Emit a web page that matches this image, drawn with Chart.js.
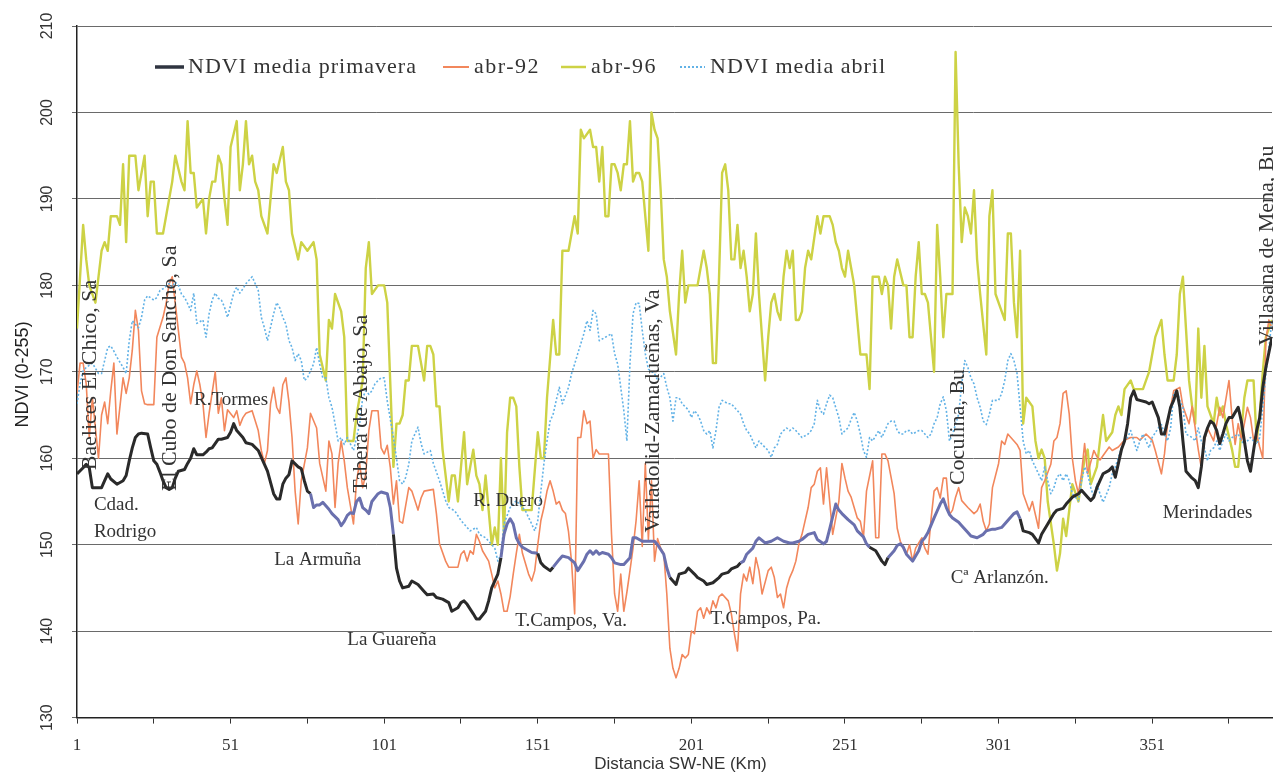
<!DOCTYPE html>
<html>
<head>
<meta charset="utf-8">
<script src="https://cdn.jsdelivr.net/npm/chart.js@4.4.1/dist/chart.umd.min.js"></script>
<style>
  html, body { margin: 0; padding: 0; background: #fff; }
  canvas { display: block; }
</style>
</head>
<body>
<canvas id="chartNdvi" width="1274" height="774"></canvas>
<script>
// [km, NDVI]
const primavera = [[1,158.2],[3,158.9],[4,159.3],[5,158.9],[6,156.6],[8,156.6],[9,156.6],[10,157.4],[11,158.2],[12,157.6],[14,157],[16,157.4],[17,158],[18,159.7],[19,161.2],[20,162.4],[21,162.8],[22,162.9],[24,162.8],[25,161.2],[26,159.7],[27,159.3],[28,158.4],[29,157.4],[30,156.6],[31,156.4],[32,156.6],[33,157.7],[34,158.5],[36,158.7],[37,159.4],[38,160],[39,161.1],[40,160.4],[42,160.4],[43,160.7],[44,161.1],[45,161.2],[47,162.2],[48,162.2],[50,162.4],[51,163],[52,164],[53,163.2],[55,162.4],[56,161.8],[58,161.6],[60,160.9],[61,160.1],[63,158.5],[65,155.9],[66,155.3],[67,155.3],[68,157],[69,157.7],[70,158.1],[71,159.7],[73,159],[74,158.8],[75,157.4],[76,156.2],[77,155.9],[78,154.3],[79,154.6],[80,154.6],[81,154.9],[82,154.5],[83,154.1],[84,153.6],[86,152.9],[87,152.2],[88,152.7],[89,153.4],[90,153.7],[91,153.6],[92,155],[93,155.4],[94,154.3],[95,154],[96,153.6],[97,155],[99,155.9],[100,156.1],[102,155.9],[103,154.3],[104,151.2],[105,147.3],[106,145.8],[107,145],[109,145.2],[110,145.8],[112,145.4],[114,144.6],[115,144.2],[117,144.3],[118,143.9],[120,143.7],[122,143.3],[123,142.3],[125,142.7],[126,143.3],[127,143.5],[128,143.1],[130,142],[131,141.4],[132,141.4],[134,142.3],[135,143.5],[136,145],[138,146.6],[139,148.5],[140,151.2],[141,152.4],[142,153],[143,152.4],[144,150.8],[145,150.1],[146,149.7],[148,149.3],[149,149.1],[151,149],[152,147.9],[153,147.5],[155,147],[156,147.4],[158,148.3],[159,148.7],[161,148.5],[163,147.9],[164,147],[166,148.1],[167,148.9],[168,149.3],[169,148.9],[170,149.3],[171,148.9],[172,149.1],[174,148.9],[175,148.5],[176,147.9],[178,147.7],[179,147.7],[181,148.5],[182,150.8],[183,150.8],[185,150.4],[187,150.4],[188,150.4],[189,150.4],[190,150],[192,148.9],[193,147.3],[194,146.2],[195,145.8],[196,145.4],[197,146.6],[199,146.8],[200,147.3],[202,146.6],[203,146.2],[205,145.8],[206,145.4],[208,145.6],[210,146.2],[211,146.6],[213,146.8],[214,147.2],[216,147.5],[217,147.9],[218,148.1],[219,148.9],[221,149.6],[222,150.4],[223,150.8],[225,150.2],[227,150.4],[229,150.8],[231,150.4],[233,150.2],[234,150.2],[236,150.4],[237,150.6],[239,151.2],[241,151.4],[242,150.6],[244,150.1],[245,150.4],[246,151.8],[248,154.7],[249,154],[250,153.6],[252,152.9],[254,152.3],[255,151.6],[257,150.9],[258,150.1],[259,149.7],[261,149.3],[263,148.1],[264,147.7],[265,148.5],[267,149.3],[268,149.9],[269,150.1],[270,149.7],[271,148.9],[273,148.1],[275,149.3],[276,150.4],[277,150.8],[278,151.4],[280,153.1],[281,153.9],[282,154.7],[283,155.3],[284,154.3],[285,153.5],[286,153.1],[288,152.6],[289,152.2],[291,151.4],[292,151],[294,150.8],[296,151.2],[297,151.6],[299,151.8],[300,151.8],[302,152],[304,152.8],[306,153.6],[307,153.8],[308,153],[309,151.6],[311,151.4],[312,151.2],[314,150.2],[315,151.2],[317,152.4],[319,153.6],[320,154],[322,154.2],[323,154.7],[325,155.5],[327,155.9],[328,156.3],[330,155.5],[331,155.1],[332,155.5],[333,156.6],[334,157.4],[335,158.2],[337,158.6],[338,159],[339,157.8],[340,159.4],[341,161],[342,162],[343,164],[344,167],[345,167.8],[346,166.8],[347,166.7],[349,166.5],[350,166.3],[351,166.5],[353,164.7],[354,162.8],[355,162.8],[356,164.3],[357,165.9],[358,166.7],[359,167.8],[360,165.9],[361,162],[362,158.5],[364,157.7],[365,157.4],[366,156.6],[367,159],[368,162.4],[369,163.5],[370,164.3],[371,164],[372,163.2],[373,161.7],[374,162.8],[375,164],[376,164.7],[377,164.7],[379,165.9],[380,164.3],[381,162],[382,159.7],[383,158.5],[384,160.9],[385,163.2],[386,164.7],[387,168.2],[388,170.5],[390,174]];

const abr92 = [[1,167.5],[2,171],[3,171],[4,168.6],[5,162.4],[6,167],[8,160],[9,165],[10,166.5],[11,164],[12,167.8],[13,171],[14,162.8],[16,169.3],[17,167.5],[18,169.3],[19,172.5],[20,177.1],[21,174.8],[22,167.8],[23,166.3],[24,166.2],[26,166.2],[27,174],[29,176.3],[30,177.9],[31,180.2],[32,181],[34,174.8],[35,171.7],[36,171],[37,169.3],[38,166.3],[39,168.5],[40,170.1],[41,168.5],[42,166.3],[43,162.4],[44,165.2],[46,170],[47,165.2],[48,167],[49,163.2],[50,165.6],[52,164.7],[53,165.5],[54,163.8],[55,164.7],[56,165.2],[58,165.5],[60,163.2],[61,160.9],[62,159.4],[63,160.9],[64,166.3],[65,168.2],[66,165.9],[67,165.2],[68,168.5],[69,169.3],[70,166.5],[71,162.4],[72,156.2],[73,152.4],[74,157.4],[76,161.2],[77,165.2],[79,163.5],[80,159.4],[82,156.2],[83,162],[84,160.5],[85,154.3],[86,159.4],[87,162],[88,159.7],[89,156.6],[91,152.4],[92,157.4],[93,159.4],[94,156.6],[95,158.2],[96,163.2],[97,165.5],[99,165.5],[100,161.2],[101,160.5],[102,161.5],[103,158.9],[104,154.7],[105,157.4],[106,152.7],[107,152.5],[109,156.6],[110,156.2],[112,154],[113,155.4],[114,156.2],[117,156.4],[118,153.6],[119,150.1],[121,148.1],[122,147.4],[125,147.4],[126,148.9],[127,149.3],[128,148.1],[129,149.3],[130,148.9],[131,151.2],[132,150.4],[133,149.3],[135,148.1],[136,146.6],[137,145],[138,145.8],[139,144.3],[140,142.3],[141,142.3],[142,144],[143,146.6],[144,149],[145,151.2],[146,149],[148,146.6],[149,145.8],[150,147],[151,150],[152,152.8],[153,154.3],[154,156.2],[155,157.4],[156,156.2],[157,154.7],[158,155],[159,154],[160,153.6],[161,151.5],[162,148],[163,142],[164,162.4],[165,162.4],[166,165.5],[167,164],[168,164.3],[169,160],[170,161],[171,160.5],[174,160.5],[175,151.2],[176,144.3],[177,142.3],[178,146.6],[179,142.3],[180,144.5],[181,147],[182,149.6],[183,152.8],[184,157.4],[185,149.8],[186,159.4],[187,150.6],[188,157.4],[189,148.1],[190,150.7],[191,149.6],[192,149],[193,144.3],[194,138],[195,135.7],[196,134.6],[197,135.7],[198,137.3],[199,136.9],[200,137.3],[201,140],[202,139.7],[203,142.3],[204,142.7],[205,141.5],[206,142.7],[207,142],[208,143.5],[209,142.7],[210,144],[211,144.3],[213,143.5],[214,142],[215,139.7],[216,137.7],[217,144.3],[218,146.6],[219,145.8],[220,147.4],[221,145.5],[222,148.5],[223,147],[224,144.3],[226,147],[227,147.4],[228,146.2],[229,143.9],[230,144.3],[231,142.7],[232,145],[233,146.2],[234,147],[235,148.1],[236,150.1],[237,151.2],[239,154.3],[240,156.6],[241,157],[242,158.5],[243,158.9],[244,154.7],[245,158.9],[247,151.2],[249,155],[250,159.4],[251,157.7],[252,156.2],[253,155.5],[255,153.1],[256,152.7],[257,150.8],[258,156.2],[260,159.7],[261,150.8],[262,150.8],[263,160.5],[264,160.5],[265,159.7],[267,155.9],[268,151.9],[269,150.4],[271,148.9],[272,150],[273,148.1],[274,149.6],[276,150.8],[277,149.6],[278,148.9],[279,152.9],[280,156.2],[281,156.6],[282,155.4],[283,157.7],[284,157.7],[285,153.5],[286,154],[287,155.5],[288,156.6],[289,155.1],[291,154.3],[293,153.6],[294,153.9],[295,154.7],[296,152.7],[297,151.6],[298,152.4],[299,156.6],[301,159.4],[302,162],[303,161.6],[304,162.8],[305,162.4],[307,161.6],[308,160.9],[309,155.9],[311,153.9],[312,155],[314,151.9],[315,156.6],[316,157.4],[318,159.3],[319,162],[320,162.4],[321,164],[322,167.5],[323,167.8],[324,165.1],[325,160],[326,157.4],[327,155.9],[328,158.2],[329,161.7],[330,158.2],[332,160.9],[333,160.2],[334,159.8],[337,161.3],[338,160.9],[340,161.3],[341,161.7],[342,162.1],[344,162.4],[346,162.4],[347,162.1],[349,162.8],[351,162.1],[352,160.9],[354,158.2],[355,160.5],[356,164],[358,167.8],[360,168.2],[361,166],[363,164],[364,166],[366,161],[367,158.9],[368,162],[369,163.5],[371,162],[373,165.9],[374,164.7],[376,169],[377,164.7],[378,161.6],[379,164],[380,162.1],[382,165.9],[383,164.7],[384,162.1],[385,162.8],[386,161.3],[387,160],[388,173.6],[389,176],[390,175]];

const abr96 = [[1,175],[3,187],[4,183],[5,180],[7,178],[9,184],[10,185],[11,184],[12,188],[14,188],[15,187],[16,194],[17,185],[18,195],[19,195],[20,195],[21,191],[23,195],[24,188],[25,192],[26,192],[27,186],[29,186],[30,188],[32,192],[33,195],[35,192],[36,191],[37,199],[38,193],[39,193],[40,189],[42,190],[43,186],[44,190],[45,192],[46,192],[47,195],[48,194],[49,190],[50,187],[51,196],[53,199],[54,191],[55,194],[56,199],[57,194],[58,195],[59,192],[60,191],[61,188],[63,186],[65,194],[66,193],[68,196],[69,192],[70,191],[71,186],[73,183],[74,185],[76,184],[78,185],[79,183],[80,172],[82,169],[83,176],[84,175],[85,179],[87,177],[88,174],[89,162],[90,162],[91,162],[92,165],[94,169],[95,182],[96,185],[97,179],[99,180],[100,180],[101,180],[102,178],[104,159],[105,164],[106,164],[107,165],[108,169],[109,169],[110,173],[112,173],[114,169],[115,173],[116,173],[117,172],[118,166],[119,166],[120,161],[122,155],[123,158],[124,158],[125,155],[127,163],[128,157],[130,161],[131,158],[132,157],[133,154],[134,158],[136,150],[137,152],[138,150],[139,160],[140,151],[141,163],[142,167],[143,167],[144,166],[145,159],[146,154],[148,154],[149,154],[151,163],[152,160],[153,160],[154,167],[156,176],[157,172],[158,172],[159,184],[161,184],[162,186],[163,188],[164,186],[165,198],[166,197],[168,198],[169,196],[170,196],[171,192],[172,196],[173,188],[174,188],[175,194],[176,194],[177,193],[178,191],[179,194],[180,194],[181,199],[182,192],[183,193],[184,193],[185,192],[187,184],[188,200],[189,198],[190,197],[191,191],[192,183],[193,181],[194,177],[196,172],[197,179],[198,184],[199,178],[200,180],[202,180],[203,180],[205,184],[206,182],[207,179],[208,171],[209,171],[210,181],[211,193],[212,194],[213,191],[214,183],[215,183],[216,187],[217,182],[218,184],[219,181],[220,177],[221,179],[222,186],[223,179],[224,174],[225,169],[226,174],[227,178],[228,179],[229,177],[230,176],[231,181],[232,184],[233,182],[234,184],[235,176],[236,176],[237,177],[238,182],[239,184],[240,183],[242,188],[243,186],[244,188],[246,188],[247,187],[248,185],[249,184],[250,182],[251,181],[252,184],[253,182],[254,180],[255,176],[256,172],[258,172],[259,168],[260,181],[262,181],[263,179],[264,181],[265,180],[266,175],[267,181],[268,183],[270,180],[271,180],[272,174],[273,174],[274,181],[275,185],[276,179],[277,179],[278,178],[280,170],[281,187],[282,181],[283,174],[284,179],[285,179],[286,179],[287,207],[288,194],[289,185],[290,189],[291,188],[292,186],[293,191],[294,183],[295,179],[297,172],[298,188],[299,191],[300,179],[302,177],[303,176],[304,186],[305,186],[306,178],[307,174],[308,184],[309,164],[310,167],[312,166],[313,162],[314,160],[315,161],[316,160],[317,155],[319,150],[320,147],[321,149],[322,153],[323,151],[324,154],[325,157],[327,155],[329,160],[330,161],[331,157],[333,159],[334,162],[335,165],[336,162],[338,163],[339,165],[340,166],[341,165],[342,168],[344,169],[345,168],[347,168],[348,168],[349,169],[350,170],[351,172],[352,174],[354,176],[355,172],[356,169],[358,169],[359,172],[360,179],[361,181],[362,175],[363,169],[364,166],[365,164],[366,175],[367,167],[368,173],[369,166],[371,164],[372,167],[373,165],[374,166],[375,164],[377,161],[378,159],[379,159],[380,163],[381,167],[382,169],[384,169],[385,162],[386,165],[387,170],[388,174],[390,176]];

const abril = [[1,166.3],[2,168.6],[3,170.1],[4,170.5],[6,171],[8,169.8],[9,169.8],[10,171.3],[11,172.8],[12,173],[13,172.4],[14,171.7],[16,170.5],[17,169.8],[18,173.6],[19,175.9],[20,175.5],[21,175.1],[22,176.3],[23,178.3],[24,178.8],[26,178.3],[27,178.6],[28,179.4],[29,179.6],[31,180.2],[32,179.8],[33,180.4],[34,180],[35,179],[36,178.6],[37,177.9],[38,177.1],[39,179.1],[40,175.6],[42,176],[43,174],[44,176.7],[45,178.3],[46,179.1],[47,178.5],[48,178.3],[49,177.5],[50,176.3],[52,179.1],[53,179.8],[54,179.1],[55,179.6],[56,180.2],[57,180.6],[58,181],[59,180.2],[60,179.4],[61,176.3],[62,175.1],[63,173.6],[65,176.7],[66,178],[67,177.4],[68,176.3],[69,175.5],[70,173.6],[71,172.8],[72,171.3],[73,172.1],[74,171.3],[75,169],[76,169.3],[78,170.9],[79,172.8],[80,170.9],[81,169.3],[82,169.3],[83,167],[84,165.9],[85,164],[86,162],[87,162.4],[88,161.6],[89,162.4],[91,160.9],[92,162.4],[93,164],[94,167],[95,167.8],[96,167.4],[97,167.8],[98,168.6],[99,169],[100,169.3],[101,169.3],[102,166.6],[104,162.4],[105,160],[106,157.4],[107,157],[108,157.8],[109,159.3],[110,162],[112,163.6],[113,161.7],[114,160.5],[116,160.9],[117,159.4],[119,157.4],[121,155.1],[122,154.3],[124,153.9],[126,152.8],[127,152.4],[129,151.6],[131,152],[132,151.2],[134,150.8],[135,150.4],[137,149.6],[138,148.1],[139,148.9],[140,152.4],[142,154.3],[144,155.1],[145,154.7],[147,153.9],[149,152.4],[150,151.6],[151,152.8],[152,156.2],[153,159.4],[154,162],[155,164.3],[156,165.1],[157,166.7],[158,168.2],[159,166.3],[161,168.2],[162,169.8],[163,170.9],[164,172.1],[166,174.4],[167,175.9],[168,174.8],[169,177.1],[170,176.7],[171,173.6],[173,174],[175,174.4],[176,172.1],[177,170.9],[178,168.2],[179,165.5],[180,162],[181,170.9],[182,176.7],[183,178],[184,177.9],[185,174.8],[186,172.1],[187,170.3],[189,169.8],[190,169],[192,169.8],[193,168.2],[194,167],[195,164.3],[196,167],[197,167],[198,166.3],[200,165.6],[201,164.7],[202,165.5],[203,165.1],[204,164.3],[205,163.2],[206,162.8],[207,163.2],[208,161.2],[209,163.2],[210,165.9],[211,166.7],[213,166.3],[214,166.3],[215,165.9],[216,165.5],[217,165.1],[218,164],[219,163.2],[220,162.8],[221,162],[222,161.2],[223,162],[224,161.6],[226,160.9],[227,160.1],[228,161.2],[229,161.6],[230,162.8],[231,163.2],[232,163.5],[233,163.2],[234,163.5],[235,163.2],[236,162.8],[237,162.4],[239,162.8],[240,163.2],[241,164],[242,166.7],[243,165.5],[244,165.1],[245,166.3],[246,167.3],[247,167],[249,164.7],[250,162.8],[251,163.2],[252,163.5],[253,164.5],[254,165.3],[255,164.3],[256,162.8],[257,160.9],[258,160.1],[259,162.4],[260,162],[262,163.2],[263,162.4],[264,163.2],[265,164],[266,164.3],[267,164.3],[268,163.2],[269,162.8],[270,162.8],[271,163.2],[272,163.2],[273,162.8],[275,163.2],[276,163.2],[277,162.8],[278,162.4],[279,162.8],[280,164],[281,164.7],[282,166.3],[283,167.1],[284,165.5],[285,162],[286,162.8],[288,165.1],[289,168.6],[290,171.3],[291,170.5],[292,169.3],[293,168.6],[294,167],[295,165.9],[296,164.3],[297,163.9],[298,165.1],[299,166.7],[301,166.7],[302,167.5],[303,169],[304,171.3],[305,172.1],[306,171.3],[307,169.8],[308,165.9],[309,162],[310,160.5],[311,160.9],[312,159.7],[314,158.2],[315,157.4],[316,159],[317,157.4],[318,155.9],[319,156.6],[320,157.8],[321,158.2],[322,157.4],[323,158.2],[324,157.4],[325,155.9],[327,155.1],[328,157.4],[329,159],[330,158.2],[331,156.6],[332,155.5],[333,157],[334,155.9],[335,154.9],[337,156.6],[338,158.2],[339,159],[340,160.1],[341,161.2],[342,162],[343,162.4],[344,163.2],[345,162],[346,160.9],[347,162],[348,162.8],[349,162],[350,161.2],[351,162.4],[353,163.5],[354,163.9],[355,162.8],[356,162],[357,163.5],[358,167.5],[359,167.8],[360,166.7],[361,165.9],[362,162.8],[364,162.4],[365,162],[366,163.5],[367,162],[368,161.2],[369,159.7],[370,160.9],[371,161.2],[372,162],[373,160.9],[374,162],[375,162.8],[376,162],[377,162.4],[379,162.8],[380,162],[381,161.6],[382,162],[383,162.4],[384,162],[385,161.6],[386,162.4],[387,165.9],[388,169.8],[389,172.8],[390,176]];

// stretches where the spring mean prints in slate blue instead of black
const slateKm = [[77,104],[139,151],[156,194],[217,259],[265,308]];

const yTicks = [130,140,150,160,170,180,190,200,210];
const xTicks = [1,26,51,76,101,126,151,176,201,226,251,276,301,326,351,376];

const legendItems = [
  { text: 'NDVI media primavera', color: '#2f3440', width: 3.5, dash: [], x0: 155, x1: 184, tx: 188 },
  { text: 'abr-92', color: '#f2875c', width: 2, dash: [], x0: 443, x1: 469, tx: 474 },
  { text: 'abr-96', color: '#cdd245', width: 2.5, dash: [], x0: 561, x1: 586, tx: 591 },
  { text: 'NDVI media abril', color: '#62b2e6', width: 2, dash: [2, 2], x0: 680, x1: 705, tx: 710 }
];

// place names, anchored in data units (km, NDVI)
const notes = [
  { text: 'Baelices El Chico, Sa', km: 5.2, v: 158.6, rot: true },
  { text: 'El Cubo de Don Sancho, Sa', km: 31.3, v: 156.2, rot: true },
  { text: 'Tabera de Abajo, Sa', km: 93.5, v: 156, rot: true },
  { text: 'Valladolid-Zamadueñas, Va', km: 188.6, v: 151.4, rot: true },
  { text: 'Coculina, Bu', km: 288, v: 156.9, rot: true },
  { text: 'Villasana de Mena, Bu', km: 388.6, v: 173, rot: true },
  { text: 'R.Tormes', km: 39.1, v: 166.7 },
  { text: 'Cdad.', km: 6.5, v: 154.6 },
  { text: 'Rodrigo', km: 6.5, v: 151.5 },
  { text: 'La Armuña', km: 65.2, v: 148.2 },
  { text: 'La Guareña', km: 89, v: 139 },
  { text: 'R. Duero', km: 130, v: 155.1 },
  { text: 'T.Campos, Va.', km: 143.7, v: 141.2 },
  { text: 'T.Campos, Pa.', km: 207.2, v: 141.4 },
  { text: 'Cª Arlanzón.', km: 285.4, v: 146.2 },
  { text: 'Merindades', km: 354.4, v: 153.7 }
];

const toXY = arr => arr.map(p => ({ x: p[0], y: p[1] }));
const inSlate = km => slateKm.some(r => km >= r[0] && km < r[1]);

const overlay = {
  id: 'overlay',
  afterDraw(chart){
    const c = chart.ctx;
    const xs = chart.scales.x, ys = chart.scales.y;
    const area = chart.chartArea;
    c.save();

    // y tick labels, rotated like the original
    c.fillStyle = '#333';
    c.font = '16px "Liberation Sans", Arial, sans-serif';
    c.textAlign = 'center';
    c.textBaseline = 'middle';
    yTicks.forEach(v => {
      c.save();
      c.translate(48, ys.getPixelForValue(v));
      c.rotate(-Math.PI/2);
      c.fillText(String(v), 0, 0);
      c.restore();
    });

    // y title
    c.save();
    c.font = '18px "Liberation Sans", Arial, sans-serif';
    c.fillStyle = '#222';
    c.translate(23, ys.getPixelForValue(169.7));
    c.rotate(-Math.PI/2);
    c.fillText('NDVI (0-255)', 0, 0);
    c.restore();

    // x title
    c.font = '17px "Liberation Sans", Arial, sans-serif';
    c.fillStyle = '#333';
    c.fillText('Distancia SW-NE (Km)', (area.left + area.right) / 2 + 6, 764);

    // legend
    c.textAlign = 'left';
    c.font = '22px "Liberation Serif", "Times New Roman", serif';
    legendItems.forEach(it => {
      c.save();
      c.strokeStyle = it.color;
      c.lineWidth = it.width;
      c.setLineDash(it.dash);
      c.beginPath();
      c.moveTo(it.x0, 67);
      c.lineTo(it.x1, 67);
      c.stroke();
      c.restore();
      c.fillStyle = '#333';
      if ('letterSpacing' in c) c.letterSpacing = it.text.length > 10 ? '1px' : '1.5px';
      c.fillText(it.text, it.tx, 67);
    });
    if ('letterSpacing' in c) c.letterSpacing = '0px';

    // place names
    c.fillStyle = '#333';
    notes.forEach(n => {
      const px = xs.getPixelForValue(n.km);
      const py = ys.getPixelForValue(n.v);
      if (n.rot) {
        c.save();
        c.font = '22px "Liberation Serif", "Times New Roman", serif';
        c.translate(px, py);
        c.rotate(-Math.PI/2);
        c.textAlign = 'left';
        c.fillText(n.text, 0, 0);
        c.restore();
      } else {
        c.font = '19px "Liberation Serif", "Times New Roman", serif';
        c.textAlign = 'left';
        c.fillText(n.text, px, py);
      }
    });
    c.restore();
  }
};

new Chart(document.getElementById('chartNdvi'), {
  type: 'line',
  data: {
    datasets: [
      {
        label: 'NDVI media primavera',
        data: toXY(primavera),
        borderColor: '#2a2a2a',
        borderWidth: 3,
        segment: { borderColor: s => inSlate(s.p0.parsed.x) ? '#6a70ae' : '#2a2a2a' }
      },
      {
        label: 'NDVI media abril',
        data: toXY(abril),
        borderColor: '#62b2e6',
        borderWidth: 1.6,
        borderDash: [2, 2]
      },
      {
        label: 'abr-92',
        data: toXY(abr92),
        borderColor: '#f2875c',
        borderWidth: 1.6
      },
      {
        label: 'abr-96',
        data: toXY(abr96),
        borderColor: '#cdd245',
        borderWidth: 2.4
      }
    ]
  },
  options: {
    responsive: false,
    animation: false,
    devicePixelRatio: 1,
    layout: { padding: { left: 72, top: 26, right: 2, bottom: 6 } },
    elements: { point: { radius: 0 }, line: { tension: 0, borderJoinStyle: 'round' } },
    plugins: { legend: { display: false }, tooltip: { enabled: false } },
    scales: {
      x: {
        type: 'linear',
        min: 1,
        max: 390,
        afterBuildTicks: axis => { axis.ticks = xTicks.map(v => ({ value: v })); },
        ticks: {
          autoSkip: false,
          maxRotation: 0,
          padding: 12,
          color: '#333',
          font: { family: '"Liberation Serif", "Times New Roman", serif', size: 17 },
          callback: v => ((v - 1) % 50 === 0 ? String(v) : '')
        },
        grid: { drawOnChartArea: false, tickLength: 6, color: '#333' },
        border: { color: '#222', width: 1.5 }
      },
      y: {
        min: 130,
        max: 210,
        ticks: { stepSize: 10, display: false },
        grid: { color: '#6a6a6a', lineWidth: 1, tickLength: 5 },
        border: { color: '#222', width: 1.5 }
      }
    }
  },
  plugins: [overlay]
});
</script>
</body>
</html>
